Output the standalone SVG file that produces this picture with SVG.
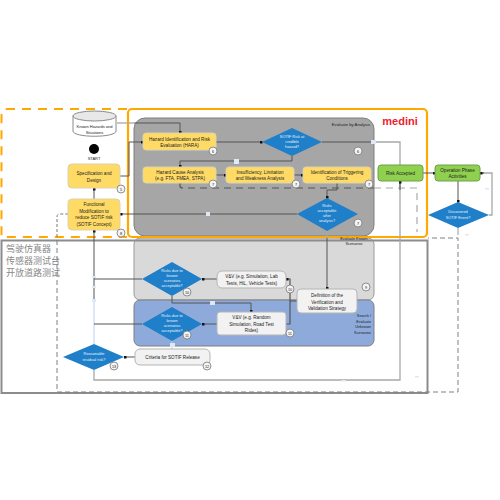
<svg xmlns="http://www.w3.org/2000/svg" width="500" height="500" viewBox="0 0 500 500">
<style>
text{font-family:"Liberation Sans",Arial,sans-serif;font-size:4.600px;fill:#222;text-anchor:middle}
.y{fill:#ffdb66;stroke:#d8d3b0;stroke-width:1}
.g{fill:#8fd14f;stroke:#6f9f50;stroke-width:1}
.w{fill:#f2f2f2;stroke:#b5b5b5;stroke-width:1}
.d{fill:#1f7fc8;stroke:none}
.dt{fill:#e8f2fb;font-size:3.900px}
.c{fill:none;stroke:#555;stroke-width:1;marker-end:url(#a)}
.n{fill:none;stroke:#555;stroke-width:1}
.l{fill:none;stroke:#a8a8a8;stroke-width:1.300}
.ld{fill:none;stroke:#a8a8a8;stroke-width:1.200;stroke-dasharray:7 5}
.b circle{fill:#f4f4f4;stroke:#777;stroke-width:.8}
.b text{font-size:3.800px}
.s{fill:#dfe8f7;stroke:none}
.cn{font-family:"Noto Sans CJK SC",serif;font-size:9px;text-anchor:start;fill:#888}
.r{font-size:3.800px;text-anchor:end}
</style>
<defs>
<marker id="a" markerWidth="3" markerHeight="3" refX="2.500" refY="1.500" orient="auto" markerUnits="userSpaceOnUse"><rect width="3" height="3" fill="#111"/></marker>
</defs>
<rect width="500" height="500" fill="#fff"/>
<g id="regions">
<rect x="134" y="118" width="240" height="118" rx="11" fill="#a6a6a6" stroke="#7f7f7f"/>
<rect x="134" y="238" width="240" height="62" rx="6" fill="#d9d9d9" stroke="#9a9a9a"/>
<rect x="134" y="300" width="240" height="46" rx="6" fill="#8eaadb" stroke="#7f7f7f"/>
<rect x="1.500" y="240.500" width="426" height="152.500" fill="none" stroke="#8c8c8c" stroke-width="2"/>
<path class="n" d="M57 240V392H458V238H428" stroke-dasharray="5 3" style="stroke:#808080"/>
<path d="M127 109H8Q1.500 109 1.500 116V237H127" fill="none" stroke="#ffa800" stroke-width="2" stroke-dasharray="9 7"/>
<rect x="128" y="109" width="299" height="128" rx="4" fill="none" stroke="#ffa800" stroke-width="2.200"/>
<text x="400" y="125" style="font-size:11px;font-weight:700;fill:#ec2230">medini</text>
<text x="351" y="126" style="font-size:4.200px">Evaluate by Analysis</text>
<text x="354" y="240" style="font-size:3.800px">Evaluate Known</text>
<text x="354" y="245" style="font-size:3.800px">Scenarios</text>
<text class="r" x="371" y="317">Search /</text>
<text class="r" x="371" y="323">Evaluate</text>
<text class="r" x="371" y="328">Unknown</text>
<text class="r" x="371" y="334">Scenarios</text>
<text class="cn" x="6" y="252">驾驶仿真器</text>
<text class="cn" x="6" y="264">传感器测试台</text>
<text class="cn" x="6" y="276">开放道路测试</text>
</g>
<g id="connectors">
<path class="l" d="M117 123H134"/>
<path class="c" d="M134 123H180V133"/>
<path class="c" d="M120 176H129V142H143"/>
<path class="c" d="M216 142H262"/>
<path class="c" d="M292 156V161H180V167"/>
<path class="c" d="M216 175H226"/>
<path class="c" d="M294 175H303"/>
<path class="c" d="M337 183V190H327V198"/>
<path d="M180 183V186Q180 188 183 188H374" fill="none" stroke="#555" stroke-width="1.200" stroke-dasharray="7 5"/>
<path class="ld" d="M374 188H417V232"/>
<path class="c" d="M297 214H120"/>
<path class="n" d="M322 142H374"/>
<path class="l" d="M374 142H400V165"/>
<path class="l" d="M327 231V238"/>
<path class="c" d="M327 238V289"/>
<path class="l" d="M400 181V380H94V370"/>
<path class="c" d="M400 190V181"/>
<path class="c" d="M423 173H435"/>
<path class="c" d="M458 181V202"/>
<path class="l" d="M489 215H492V173H480"/>
<path class="c" d="M484 173H480"/>
<path class="ld" d="M458 228V238"/>
<path d="M57 237V217Q57 214 60 214H68" fill="none" stroke="#777" stroke-dasharray="3 2"/>
<path class="c" d="M94 199V188"/>
<path class="c" d="M94 300V230"/>
<path d="M94 344V300" fill="none" stroke="#bcd0f0" stroke-width="1"/>
<path class="n" d="M142 279H94M142 324H94"/>
<path class="c" d="M217 279H202"/>
<path class="c" d="M217 324H202"/>
<path class="c" d="M172 296V303H251V312"/>
<path d="M172 341V349" fill="none" stroke="#bcd0f0"/>
<path class="c" d="M135 357H124"/>
<path class="c" d="M286 324H290V279H286" style="stroke-width:1.200"/>
<path class="n" d="M297 301H290"/>
<rect class="s" x="210" y="301" width="5" height="4"/>
<rect class="s" x="234" y="159" width="5" height="5"/>
<rect class="s" x="206" y="212" width="4" height="4"/>
<rect class="s" x="371" y="140" width="5" height="4"/>
<rect class="s" x="170" y="343" width="5" height="4"/>
<rect class="s" x="92" y="299" width="4" height="3"/>
<rect class="s" x="92" y="276" width="4" height="2"/>
<rect class="s" x="92" y="286" width="4" height="2"/>
<rect class="s" x="485" y="188" width="4" height="1.500"/>
<rect class="s" x="465" y="234" width="4" height="1.500"/>
<rect class="s" x="415" y="376" width="4" height="1.500"/>
<rect class="s" x="341" y="380" width="5" height="1.500"/>
</g>
<g id="hazards-db">
<path d="M73 116V131C73 138 116 138 116 131V116Z" fill="#fff" stroke="#8a8a8a"/>
<ellipse cx="94.500" cy="116" rx="21.500" ry="5" fill="#e8e8e8" stroke="#8a8a8a"/>
<text x="94.500" y="128" style="font-size:4px">Known Hazards and</text>
<text x="94.500" y="133.500" style="font-size:4px">Situations</text>
</g>
<g id="start"><circle cx="94" cy="149" r="5" fill="#000"/><text x="94" y="160" style="font-size:4px">START</text></g>
<g id="spec"><rect class="y" x="68" y="164" width="52" height="24" rx="4"/><text x="94" y="175">Specification and</text><text x="94" y="182">Design</text></g>
<g id="func"><rect class="y" x="68" y="199" width="52" height="31" rx="4"/><text x="94" y="206">Functional</text><text x="94" y="212.500">Modification to</text><text x="94" y="219">reduce SOTIF risk</text><text x="94" y="225.500">(SOTIF Concept)</text></g>
<g id="hara"><rect class="y" x="143" y="133" width="73" height="17" rx="3"/><text x="179.500" y="140.500">Hazard Identification and Risk</text><text x="179.500" y="147">Evaluation (HARA)</text></g>
<g id="cause"><rect class="y" x="143" y="167" width="73" height="16" rx="3"/><text x="180" y="173.500">Hazard Cause Analysis</text><text x="180" y="180">(e.g. FTA, FMEA, STPA)</text></g>
<g id="insuff"><rect class="y" x="226" y="167" width="68" height="16" rx="3"/><text x="260" y="173.500">Insufficiency, Limitation</text><text x="260" y="180">and Weakness Analysis</text></g>
<g id="ident"><rect class="y" x="303" y="167" width="68" height="16" rx="3"/><text x="337" y="173.500">Identification of Triggering</text><text x="337" y="180">Conditions</text></g>
<g id="accepted"><rect class="g" x="378" y="165" width="45" height="16" rx="3"/><text x="400.500" y="175">Risk Accepted</text></g>
<g id="operation"><rect class="g" x="435" y="165" width="45" height="16" rx="3"/><text x="457.500" y="171.500">Operation Phase</text><text x="457.500" y="178">Activities</text></g>
<g id="d-sotif"><polygon class="d" points="262,142 292,128 322,142 292,156"/><text class="dt" x="292" y="138">SOTIF Risk at</text><text class="dt" x="292" y="143">credible</text><text class="dt" x="292" y="148">hazard?</text></g>
<g id="d-risks"><polygon class="d" points="297,214 327,198 358,214 327,231"/><text class="dt" x="327" y="207">Risks</text><text class="dt" x="327" y="212">acceptable</text><text class="dt" x="327" y="217">after</text><text class="dt" x="327" y="222">analysis?</text></g>
<g id="d-discover"><polygon class="d" points="428,215 458,202 489,215 458,228"/><text class="dt" x="458" y="213">Discovered</text><text class="dt" x="458" y="219">SOTIF Event?</text></g>
<g id="d-known"><polygon class="d" points="142,279 172,262 202,279 172,296"/><text class="dt" x="172" y="272">Risks due to</text><text class="dt" x="172" y="277">known</text><text class="dt" x="172" y="282">scenarios</text><text class="dt" x="172" y="287">acceptable?</text></g>
<g id="d-unknown"><polygon class="d" points="142,324 172,307 202,324 172,341"/><text class="dt" x="172" y="317">Risks due to</text><text class="dt" x="172" y="322">known</text><text class="dt" x="172" y="327">scenarios</text><text class="dt" x="172" y="332">acceptable?</text></g>
<g id="d-residual"><polygon class="d" points="63,357 94,344 124,357 94,370"/><text class="dt" x="94" y="355">Reasonable</text><text class="dt" x="94" y="361">residual risk?</text></g>
<g id="vv1"><rect class="w" x="217" y="271" width="69" height="17" rx="5"/><text x="251.500" y="278">V&amp;V (e.g. Simulation, Lab</text><text x="251.500" y="285">Tests, HiL, Vehicle Tests)</text></g>
<g id="vv2"><rect class="w" x="217" y="312" width="69" height="23" rx="3"/><text x="251.500" y="319">V&amp;V (e.g. Random</text><text x="251.500" y="325.500">Simulation, Road Test</text><text x="251.500" y="332">Rides)</text></g>
<g id="definition"><rect class="w" x="297" y="289" width="60" height="24" rx="4"/><text x="327" y="297">Definition of the</text><text x="327" y="303.500">Verification and</text><text x="327" y="310">Validation Strategy</text></g>
<g id="criteria"><rect class="w" x="135" y="349" width="75" height="16" rx="5"/><text x="172.500" y="359">Criteria for SOTIF Release</text></g>
<g id="badges" class="b">
<circle cx="121" cy="189" r="4"/><text x="121" y="190.500">5</text>
<circle cx="121" cy="233" r="4"/><text x="121" y="234.500">8</text>
<circle cx="213" cy="151" r="4"/><text x="213" y="152.500">6</text>
<circle cx="213" cy="184" r="4"/><text x="213" y="185.500">7</text>
<circle cx="296" cy="184" r="4"/><text x="296" y="185.500">7</text>
<circle cx="369" cy="184" r="4"/><text x="369" y="185.500">7</text>
<circle cx="358" cy="151" r="4"/><text x="358" y="152.500">6</text>
<circle cx="358" cy="223" r="4"/><text x="358" y="224.500">7</text>
<circle cx="366" cy="287" r="4"/><text x="366" y="288.500">9</text>
<circle cx="187" cy="292" r="4"/><text x="187" y="293.500">10</text>
<circle cx="290" cy="289" r="4"/><text x="290" y="290.500">10</text>
<circle cx="187" cy="335" r="4"/><text x="187" y="336.500">11</text>
<circle cx="290" cy="333" r="4"/><text x="290" y="334.500">11</text>
<circle cx="207" cy="366" r="4"/><text x="207" y="367.500">12</text>
<circle cx="114" cy="366" r="4"/><text x="114" y="367.500">13</text>
</g>
</svg>
